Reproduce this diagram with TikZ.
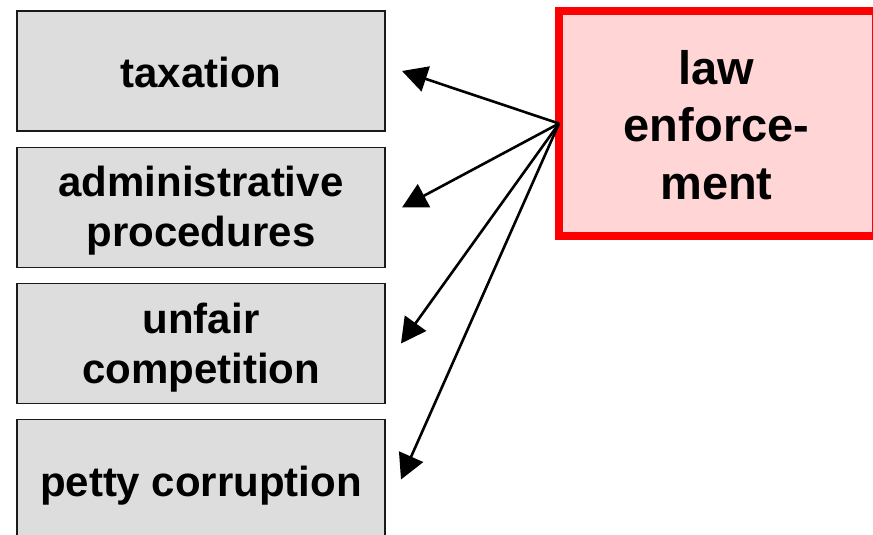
\documentclass[tikz,border=0pt]{standalone}
\usepackage{fontspec}
\setmainfont{Liberation Sans}
\usetikzlibrary{arrows.meta}
\definecolor{boxgray}{HTML}{DDDDDD}
\definecolor{boxedge}{HTML}{1A1A1A}
\definecolor{lawpink}{HTML}{FFD5D5}
\definecolor{lawred}{HTML}{FF0000}

\begin{document}
\begin{tikzpicture}[x=1pt,y=-1pt,
  topic/.style={draw=boxedge, line width=1.8pt, fill=boxgray,
    minimum width=368pt, minimum height=120pt, inner sep=0pt, outer sep=0pt},
  topictext/.style={inner sep=0pt, align=center,
    font=\bfseries\fontsize{42}{50}\selectfont},
  lawbox/.style={draw=lawred, line width=7.5pt, fill=lawpink,
    minimum width=317pt, minimum height=225pt, inner sep=0pt, outer sep=0pt},
  lawtext/.style={inner sep=0pt, align=center,
    font=\bfseries\fontsize{47}{57.5}\selectfont},
  link/.style={line width=2.6pt, -{Triangle[length=25pt,width=26pt]}}]
\useasboundingbox (0,0) rectangle (873,535);
\clip (0,0) rectangle (873,535);

% topic boxes on the left
\node[topic] (tax) at (201,71) {};
\node[topic] (adm) at (201,207.5) {};
\node[topic] (unf) at (201,343.5) {};
\node[topic] (pet) at (201,479.5) {};
\node[topictext] (taxText) at (201,72.3) {taxation};
\node[topictext] (admText) at (201,211.1) {administrative\\procedures};
\node[topictext] (unfText) at (201,347.5) {unfair\\competition};
\node[topictext] (petText) at (201,486) {petty corruption};

% law enforcement box, partly beyond the right edge
\node[lawbox] (law) at (717.5,123.5) {};
\node[lawtext] (lawText) at (716.5,125) {law\\enforce-\\ment};

% arrow tips, a little to the right of each topic box
\coordinate (tTax) at ([xshift=17pt]tax.east);
\coordinate (tAdm) at ([xshift=17pt]adm.east);
\coordinate (tUnf) at ([xshift=16pt]unf.east);
\coordinate (tPet) at ([xshift=16pt]pet.east);

\draw[link] (law.west) -- (tTax);
\draw[link] (law.west) -- (tAdm);
\draw[link] (law.west) -- (tUnf);
\draw[link] (law.west) -- (tPet);
\end{tikzpicture}
\end{document}
